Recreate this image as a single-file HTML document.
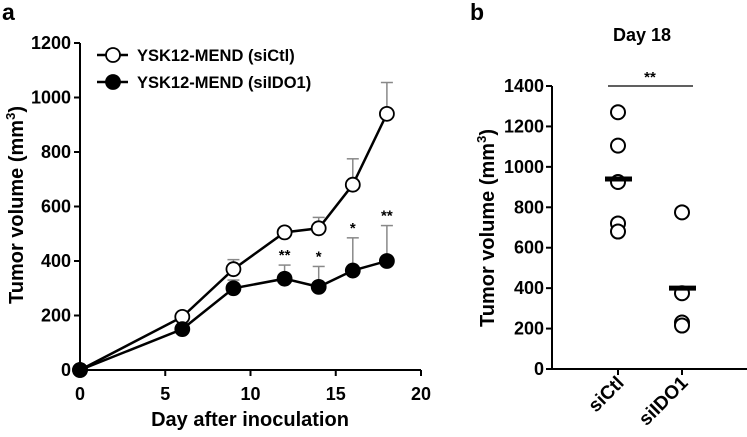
<!DOCTYPE html>
<html><head><meta charset="utf-8"><style>
html,body{margin:0;padding:0;background:#fff}
svg{display:block;font-family:"Liberation Sans",Arial,sans-serif;font-weight:bold}
</style></head><body>
<svg id="c" width="747" height="437" viewBox="0 0 747 437"></svg>
<script>
const days=[0,6,9,12,14,16,18];
const ctlMean=[0,195,370,505,520,680,940];
const ctlErr=[0,10,35,10,40,95,115];
const idoMean=[0,150,300,335,305,365,400];
const idoErr=[0,10,30,50,75,120,130];
const sigLabels=["","","","**","*","*","**"];
const xTicksA=[0,5,10,15,20];
const yTicksA=[0,200,400,600,800,1000,1200];
const groupsB=["siCtl","siIDO1"];
const ctlPts=[1270,1105,925,720,680];
const idoPts=[775,375,230,215];
const meansB=[940,400];
const yTicksB=[0,200,400,600,800,1000,1200,1400];

const svg=document.getElementById('c');const NS="http://www.w3.org/2000/svg";
function mk(t,a,p){const e=document.createElementNS(NS,t);for(const k in a)e.setAttribute(k,a[k]);(p||svg).appendChild(e);return e;}
const xa=v=>80+v*(341/20), ya=v=>370-v*(327/1200);
const gA=mk('g',{});


let t=mk('text',{x:2,y:20,'font-size':23},gA);t.textContent='a';

mk('line',{x1:80,y1:43,x2:80,y2:370,stroke:'#000','stroke-width':2},gA);
mk('line',{x1:80,y1:370,x2:421,y2:370,stroke:'#000','stroke-width':2},gA);
yTicksA.forEach(v=>{mk('line',{x1:74,x2:80,y1:ya(v),y2:ya(v),stroke:'#000','stroke-width':2},gA);
 const e=mk('text',{x:71,y:ya(v)+6,'font-size':18,'text-anchor':'end'},gA);e.textContent=v;
 });
xTicksA.forEach(v=>{mk('line',{x1:xa(v),x2:xa(v),y1:370,y2:376,stroke:'#000','stroke-width':2},gA);
 const e=mk('text',{x:xa(v),y:400,'font-size':18,'text-anchor':'middle'},gA);e.textContent=v;
 });
t=mk('text',{x:250,y:426,'font-size':20,'text-anchor':'middle'},gA);t.textContent='Day after inoculation';

t=mk('text',{transform:'translate(23,205) rotate(-90)','font-size':20,'text-anchor':'middle'},gA);
t.innerHTML='Tumor volume (mm<tspan font-size="13" dy="-8">3</tspan><tspan dy="8">)</tspan>';

function err(m,e){days.forEach((d,i)=>{if(e[i]<=0)return;const x=xa(d);
 mk('line',{x1:x,x2:x,y1:ya(m[i]),y2:ya(m[i]+e[i]),stroke:'#888','stroke-width':1.5},gA);
 mk('line',{x1:x-6,x2:x+6,y1:ya(m[i]+e[i]),y2:ya(m[i]+e[i]),stroke:'#888','stroke-width':1.5},gA);});}
err(ctlMean,ctlErr);err(idoMean,idoErr);
function series(m,fill,name){mk('polyline',{points:days.map((d,i)=>xa(d)+','+ya(m[i])).join(' '),fill:'none',stroke:'#000','stroke-width':2.5},gA);
 days.forEach((d,i)=>{const c=mk('circle',{cx:xa(d),cy:ya(m[i]),r:7,fill:fill,stroke:'#000','stroke-width':1.8},gA);
 });}
series(ctlMean,'#fff','sictl');series(idoMean,'#000','siido1');
days.forEach((d,i)=>{if(!sigLabels[i])return;const e=mk('text',{x:xa(d),y:ya(idoMean[i]+idoErr[i])-5,'font-size':15,'text-anchor':'middle'},gA);e.textContent=sigLabels[i];
 });
[['YSK12-MEND (siCtl)','#fff',55],['YSK12-MEND (siIDO1)','#000',82]].forEach(([l,f,y])=>{
 const g=mk('g',{},gA);
 mk('line',{x1:97,x2:128,y1:y,y2:y,stroke:'#000','stroke-width':2.5},g);
 mk('circle',{cx:113,cy:y,r:7,fill:f,stroke:'#000','stroke-width':1.8},g);
 const e=mk('text',{x:137,y:y+6,'font-size':16.5},g);e.textContent=l;});
const yb=v=>369-v*(283/1400);const xb=i=>[618,682][i];
const gB=mk('g',{});
t=mk('text',{x:470,y:20,'font-size':23},gB);t.textContent='b';

t=mk('text',{x:642,y:41,'font-size':18,'text-anchor':'middle'},gB);t.textContent='Day 18';

mk('line',{x1:552,y1:86,x2:552,y2:370,stroke:'#000','stroke-width':2},gB);
mk('line',{x1:552,y1:369,x2:747,y2:369,stroke:'#000','stroke-width':2},gB);
yTicksB.forEach(v=>{mk('line',{x1:546,x2:552,y1:yb(v),y2:yb(v),stroke:'#000','stroke-width':2},gB);
 const e=mk('text',{x:544,y:yb(v)+6,'font-size':18,'text-anchor':'end'},gB);e.textContent=v;
 });
groupsB.forEach((g,i)=>{mk('line',{x1:xb(i),x2:xb(i),y1:369,y2:375,stroke:'#000','stroke-width':2},gB);
 const e=mk('text',{transform:`translate(${xb(i)+7},384) rotate(-45)`,'font-size':19,'text-anchor':'end'},gB);e.textContent=g;
 });
t=mk('text',{transform:'translate(494,228) rotate(-90)','font-size':20,'text-anchor':'middle'},gB);
t.innerHTML='Tumor volume (mm<tspan font-size="13" dy="-8">3</tspan><tspan dy="8">)</tspan>';

[ctlPts,idoPts].forEach((pts,i)=>{pts.forEach(v=>{const c=mk('circle',{cx:xb(i),cy:yb(v),r:7,fill:'#fff',stroke:'#000','stroke-width':2},gB);
 });
 const m=mk('line',{x1:xb(i)-13,x2:xb(i)+14,y1:yb(meansB[i]),y2:yb(meansB[i]),stroke:'#000','stroke-width':5},gB);
 });
mk('line',{x1:608,x2:693,y1:86,y2:86,stroke:'#000','stroke-width':1.3},gB);
t=mk('text',{x:650,y:82,'font-size':15,'text-anchor':'middle'},gB);t.textContent='**';

</script>
</body></html>
